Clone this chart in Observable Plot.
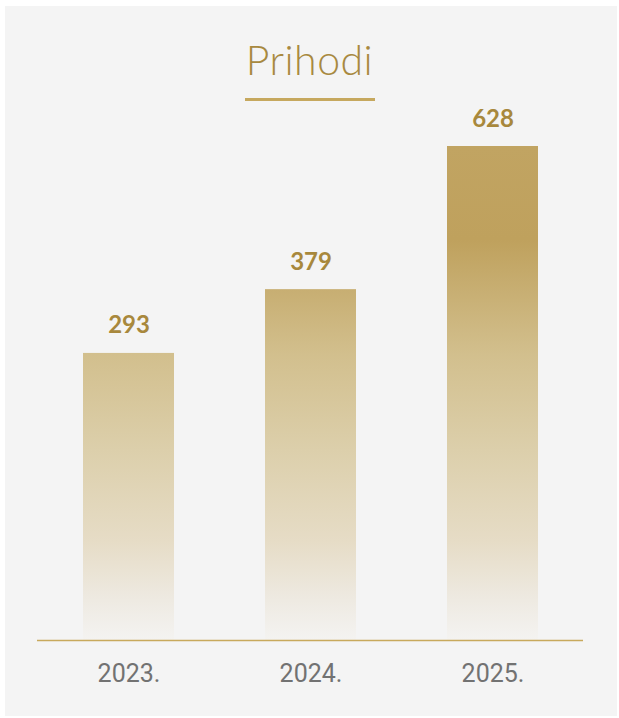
<!DOCTYPE html>
<html><head><meta charset="utf-8">
<script src="https://cdn.jsdelivr.net/npm/d3@7"></script>
<script src="https://cdn.jsdelivr.net/npm/@observablehq/plot@0.6"></script>
<style>
html,body{margin:0;padding:0;background:#ffffff;}
#panel{position:absolute;left:5px;top:6px;width:612px;height:710px;background:#f4f4f4;}
#title{position:absolute;left:0;top:39px;width:619px;text-align:center;font-family:Lato;font-weight:300;font-size:41px;line-height:41px;color:#a8893f;letter-spacing:0.5px;}
#rule{position:absolute;left:245px;top:98px;width:130px;height:3px;background:#c6a85e;}
#chart{position:absolute;left:0;top:100px;}
</style></head><body>
<div id="panel"></div>
<div id="title">Prihodi</div>
<div id="rule"></div>
<div id="chart"></div>
<script>
const years = ["2023.", "2024.", "2025."];
const values = [293, 379, 628];
const yBase = 60.5;
const yMax = 628;
const stopOffsets = [0, 0.19, 0.42, 0.615, 0.8, 0.92, 1];
const stopColors = ["#c1a462", "#bfa15d", "#d2bf8d", "#dccfab", "#e6dcc6", "#eeeae2", "#f4f3f1"];

const data = years.map((year, i) => ({year, value: values[i]}));

const chart = Plot.plot({
  width: 619,
  height: 610,
  marginLeft: 37,
  marginRight: 36,
  marginTop: 46,
  marginBottom: 70,
  style: {background: "transparent", fontFamily: "Roboto", color: "#727272"},
  x: {domain: years, paddingInner: 0.5, paddingOuter: 0.25, axis: null},
  y: {type: "pow", exponent: 0.35, domain: [yBase, yMax], axis: null},
  marks: [
    Plot.barY(data, {x: "year", y1: yBase, y2: "value", fill: "url(#barGrad)"}),
    Plot.ruleY([yBase], {stroke: "#c8a95c", strokeWidth: 1.5}),
    Plot.text(data, {x: "year", y: "value", text: d => String(d.value), dy: -20, lineAnchor: "bottom",
      fontFamily: "Lato", fontWeight: 700, fontSize: 24, fill: "#a8883c"}),
    Plot.axisX({tickSize: 0, tickPadding: 24, fontSize: 25, label: null})
  ]
});

const ys = chart.scale("y");
const ns = "http://www.w3.org/2000/svg";
const defs = document.createElementNS(ns, "defs");
const grad = document.createElementNS(ns, "linearGradient");
grad.setAttribute("id", "barGrad");
grad.setAttribute("gradientUnits", "userSpaceOnUse");
grad.setAttribute("x1", 0);
grad.setAttribute("x2", 0);
grad.setAttribute("y1", ys.apply(yMax));
grad.setAttribute("y2", ys.apply(yBase));
stopOffsets.forEach((o, i) => {
  const s = document.createElementNS(ns, "stop");
  s.setAttribute("offset", o);
  s.setAttribute("stop-color", stopColors[i]);
  grad.appendChild(s);
});
defs.appendChild(grad);
chart.insertBefore(defs, chart.firstChild);
document.getElementById("chart").appendChild(chart);
</script>
</body></html>
